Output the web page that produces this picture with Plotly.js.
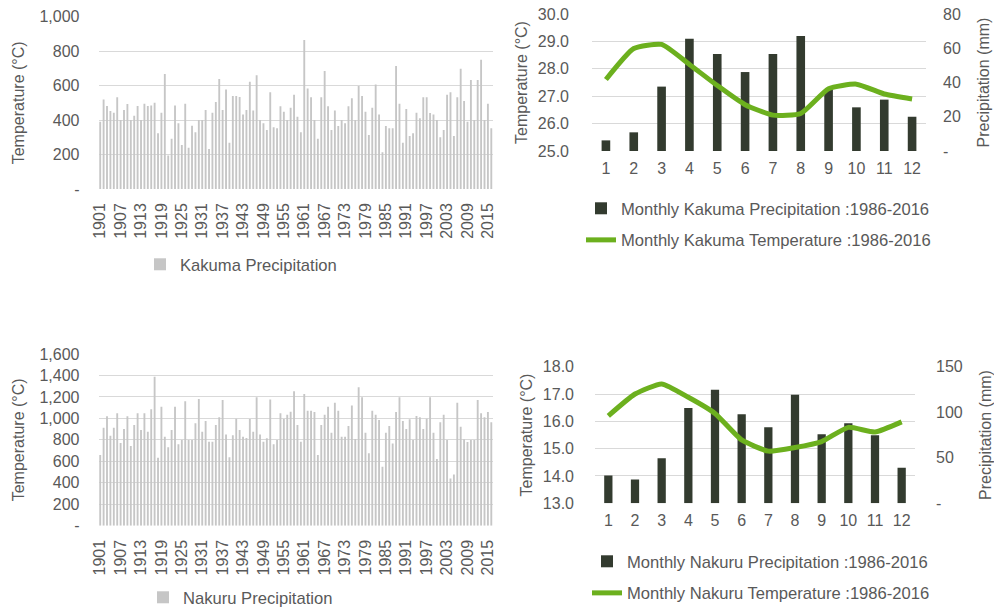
<!DOCTYPE html>
<html><head><meta charset="utf-8">
<script src="https://cdn.plot.ly/plotly-3.0.1.min.js"></script>
<style>html,body{margin:0;padding:0;background:#fff}#chart{width:994px;height:615px}</style>
</head><body><div id="chart"></div>
<script>
const years = [1901,1902,1903,1904,1905,1906,1907,1908,1909,1910,1911,1912,1913,1914,1915,1916,1917,1918,1919,1920,
1921,1922,1923,1924,1925,1926,1927,1928,1929,1930,1931,1932,1933,1934,1935,1936,1937,1938,1939,1940,
1941,1942,1943,1944,1945,1946,1947,1948,1949,1950,1951,1952,1953,1954,1955,1956,1957,1958,1959,1960,
1961,1962,1963,1964,1965,1966,1967,1968,1969,1970,1971,1972,1973,1974,1975,1976,1977,1978,1979,1980,
1981,1982,1983,1984,1985,1986,1987,1988,1989,1990,1991,1992,1993,1994,1995,1996,1997,1998,1999,2000,
2001,2002,2003,2004,2005,2006,2007,2008,2009,2010,2011,2012,2013,2014,2015,2016];

const kakumaAnnual = [391,520,482,453,443,532,400,458,493,400,425,482,400,495,482,485,501,323,443,667,
195,292,485,381,255,495,240,367,329,400,400,458,232,443,505,638,458,578,269,540,
540,534,433,458,623,456,660,400,381,342,561,358,352,480,449,400,472,547,420,329,
865,584,532,400,292,532,685,480,342,456,366,400,381,480,526,400,598,540,449,313,
472,607,433,213,366,352,352,714,495,269,464,308,323,443,410,532,532,441,433,400,
300,342,547,561,308,532,698,511,391,632,400,632,750,400,495,352];

const nakuruAnnual = [659,913,1019,839,913,1047,770,901,1019,742,938,1047,892,1047,876,1084,1389,634,1109,829,
730,892,1109,758,798,1159,798,798,954,1180,876,975,783,783,938,1010,1171,851,637,842,
997,892,829,817,994,876,1196,851,783,814,1177,758,798,1047,994,1034,1062,1252,938,783,
1227,1072,1072,1059,659,938,1034,1109,867,1146,1072,829,829,929,1121,808,1289,1196,867,674,
1072,1034,985,550,867,929,767,1059,1196,975,901,991,798,1022,1010,901,997,1196,867,621,
963,1034,798,441,478,1146,923,805,780,798,798,1171,1047,1010,1059,963];

const months = [1,2,3,4,5,6,7,8,9,10,11,12];
const kakumaMonthlyPrecip = [6.2,10.9,37.6,65.6,56.6,46.1,56.6,67.2,36.0,25.5,30.0,20.0];
const kakumaMonthlyTemp = [27.61,28.74,28.89,28.16,27.39,26.69,26.31,26.37,27.27,27.44,27.08,26.90];
const nakuruMonthlyPrecip = [30.4,26.0,49.4,104.6,124.8,97.7,83.4,119.3,75.7,87.8,74.6,39.1];
const nakuruMonthlyTemp = [16.20,17.00,17.37,16.88,16.29,15.32,14.91,15.04,15.26,15.78,15.61,15.98];

const kakumaAnnualTicks = [0,200,400,600,800,1000];
const kakumaAnnualLabels = ['-','200','400','600','800','1,000'];
const nakuruAnnualTicks = [0,200,400,600,800,1000,1200,1400,1600];
const nakuruAnnualLabels = ['-','200','400','600','800','1,000','1,200','1,400','1,600'];
const kakumaPrecipTicks = [0,20,40,60,80];
const kakumaPrecipLabels = ['-','20','40','60','80'];
const nakuruPrecipTicks = [0,50,100,150];
const nakuruPrecipLabels = ['-','50','100','150'];

const W = 994, H = 615;
const px = v => v / W;
const py = v => 1 - v / H;
const FONT = '"Liberation Sans", Arial, sans-serif';
const TXT = '#595959';
const GRID = '#d9d9d9';
const GRAYBAR = '#c6c6c6';
const DARKBAR = '#333b2f';
const GREEN = '#6cb01e';

const traces = [
  {type:'bar', x:years, y:kakumaAnnual, xaxis:'x', yaxis:'y', width:0.55,
   marker:{color:GRAYBAR}, name:'Kakuma Precipitation', legend:'legend'},
  {type:'bar', x:months, y:kakumaMonthlyPrecip, xaxis:'x2', yaxis:'y2', width:0.31,
   marker:{color:DARKBAR}, name:'Monthly Kakuma Precipitation :1986-2016', legend:'legend2', legendgroup:'a'},
  {type:'scatter', mode:'lines', x:months, y:kakumaMonthlyTemp, xaxis:'x2', yaxis:'y3',
   line:{color:GREEN, width:5, shape:'spline', smoothing:0.5}, name:'Monthly Kakuma Temperature :1986-2016', legend:'legend2', legendgroup:'b'},
  {type:'bar', x:years, y:nakuruAnnual, xaxis:'x3', yaxis:'y4', width:0.55,
   marker:{color:GRAYBAR}, name:'Nakuru Precipitation', legend:'legend3'},
  {type:'bar', x:months, y:nakuruMonthlyPrecip, xaxis:'x4', yaxis:'y5', width:0.31,
   marker:{color:DARKBAR}, name:'Monthly Nakuru Precipitation :1986-2016', legend:'legend4', legendgroup:'a'},
  {type:'scatter', mode:'lines', x:months, y:nakuruMonthlyTemp, xaxis:'x4', yaxis:'y6',
   line:{color:GREEN, width:5, shape:'spline', smoothing:0.5}, name:'Monthly Nakuru Temperature :1986-2016', legend:'legend4', legendgroup:'b'}
];

const yearAxis = (dom, anchor) => ({domain:dom, anchor:anchor, range:[1900.5,2016.5], tickmode:'linear', tick0:1901, dtick:6,
  tickangle:-90, showgrid:false, zeroline:false, showline:false, ticks:'', ticklabelstandoff:10,
  tickfont:{family:FONT, size:16, color:TXT}});
const monthAxis = (dom, anchor) => ({domain:dom, anchor:anchor, range:[0.5,12.5], tickmode:'linear', tick0:1, dtick:1,
  showgrid:false, zeroline:false, showline:false, ticks:'', ticklabelstandoff:6,
  tickfont:{family:FONT, size:16, color:TXT}});
const ytitle = (t, s) => ({text:t, standoff:s, font:{family:FONT, size:16, color:TXT}});

const legendBase = (x, y, anchor) => ({x:px(x), xanchor:'left', y:py(y), yanchor:anchor || 'top', bgcolor:'rgba(0,0,0,0)',
  borderwidth:0, traceorder:'grouped', tracegroupgap:7, font:{family:FONT, size:16.6, color:TXT}});

const layout = {
  width:W, height:H, margin:{l:0, r:0, t:0, b:0}, paper_bgcolor:'#fff', plot_bgcolor:'rgba(0,0,0,0)',
  font:{family:FONT, size:16, color:TXT}, showlegend:true,
  xaxis: yearAxis([px(98.5), px(493)], 'y'),
  yaxis: {domain:[py(189), py(16.7)], anchor:'x', range:[0,1000], tickvals:kakumaAnnualTicks, ticktext:kakumaAnnualLabels,
    showgrid:true, gridcolor:GRID, gridwidth:1, zeroline:false, ticks:'', ticklabelstandoff:18,
    tickfont:{family:FONT, size:16, color:TXT}, title:ytitle('Temperature (°C)', 10)},
  xaxis2: monthAxis([px(592), px(926)], 'y2'),
  yaxis2: {domain:[py(151), py(14)], anchor:'x2', side:'right', range:[0,80], tickvals:kakumaPrecipTicks, ticktext:kakumaPrecipLabels,
    showgrid:false, zeroline:false, ticks:'', ticklabelstandoff:16,
    tickfont:{family:FONT, size:16, color:TXT}, title:ytitle('Precipitation (mm)', 17)},
  yaxis3: {overlaying:'y2', anchor:'x2', side:'left', range:[25,30], tickmode:'linear', tick0:25, dtick:1, tickformat:'.1f',
    showgrid:true, gridcolor:GRID, zeroline:false, ticks:'', ticklabelstandoff:22,
    tickfont:{family:FONT, size:16, color:TXT}, title:ytitle('Temperature (°C)', 6)},
  xaxis3: yearAxis([px(98.5), px(493)], 'y4'),
  yaxis4: {domain:[py(525.7), py(354)], anchor:'x3', range:[0,1600], tickvals:nakuruAnnualTicks, ticktext:nakuruAnnualLabels,
    showgrid:true, gridcolor:GRID, gridwidth:1, zeroline:false, ticks:'', ticklabelstandoff:18,
    tickfont:{family:FONT, size:16, color:TXT}, title:ytitle('Temperature (°C)', 10)},
  xaxis4: monthAxis([px(595), px(915)], 'y5'),
  yaxis5: {domain:[py(503.3), py(366.7)], anchor:'x4', side:'right', range:[0,150], tickvals:nakuruPrecipTicks, ticktext:nakuruPrecipLabels,
    showgrid:false, zeroline:false, ticks:'', ticklabelstandoff:20,
    tickfont:{family:FONT, size:16, color:TXT}, title:ytitle('Precipitation (mm)', 21)},
  yaxis6: {overlaying:'y5', anchor:'x4', side:'left', range:[13,18], tickmode:'linear', tick0:13, dtick:1, tickformat:'.1f',
    showgrid:true, gridcolor:GRID, zeroline:false, ticks:'', ticklabelstandoff:20,
    tickfont:{family:FONT, size:16, color:TXT}, title:ytitle('Temperature (°C)', 6)},
  legend: legendBase(140, 247),
  legend2: legendBase(581, 191),
  legend3: legendBase(143, 615, 'bottom'),
  legend4: legendBase(587, 544)
};

Plotly.newPlot('chart', traces, layout, {displayModeBar:false, staticPlot:true});
</script></body></html>
